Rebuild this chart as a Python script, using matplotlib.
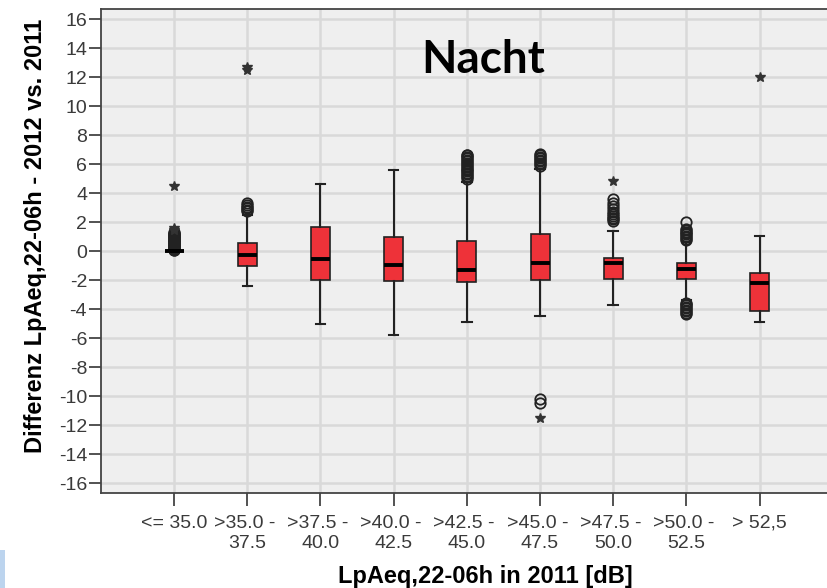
import matplotlib
matplotlib.use('Agg')
import matplotlib.pyplot as plt
from matplotlib.patches import Rectangle

plt.rcParams['axes.unicode_minus'] = False

# Kategorien (LpAeq,22-06h in 2011)
categories = ['<= 35.0', '>35.0 - \n37.5', '>37.5 - \n40.0', '>40.0 - \n42.5',
              '>42.5 - \n45.0', '>45.0 - \n47.5', '>47.5 - \n50.0',
              '>50.0 - \n52.5', '> 52,5']

# Boxplot-Kennwerte
q1 = [0.0, -1.02, -1.99, -2.06, -2.1, -2.0, -1.92, -1.92, -4.1]
med = [0.0, -0.28, -0.56, -0.95, -1.3, -0.81, -0.79, -1.21, -2.2]
q3 = [0.0, 0.55, 1.69, 0.98, 0.72, 1.17, -0.49, -0.79, -1.53]
whis_lo = [0.0, -2.4, -5.0, -5.78, -4.9, -4.47, -3.71, -3.37, -4.9]
whis_hi = [0.0, 2.5, 4.62, 5.6, 4.8, 5.7, 1.39, 0.66, 1.07]

# Ausreisser (Kreise) und Extremwerte (Sterne)
fliers = [[0.05, 0.1, 0.15, 0.2, 0.25, 0.3, 0.35, 0.4, 0.45, 0.5, 0.55, 0.6, 0.65,
           0.7, 0.75, 0.8, 0.85, 0.9, 0.95, 1.0, 1.05, 1.1, 1.15, 1.2, 1.25, 1.3],
          [2.75, 2.85, 2.95, 3.05, 3.2, 3.3],
          [],
          [],
          [5.0, 5.1, 5.2, 5.3, 5.4, 5.5, 5.6, 5.7, 5.8, 5.9, 6.0, 6.1, 6.2, 6.3,
           6.4, 6.5, 6.6, 6.65],
          [5.9, 6.0, 6.1, 6.2, 6.3, 6.4, 6.5, 6.6, 6.7, -10.2, -10.45],
          [2.1, 2.2, 2.3, 2.4, 2.55, 2.7, 2.9, 3.1, 3.3, 3.6],
          [0.75, 0.85, 0.95, 1.05, 1.15, 1.25, 1.35, 1.45, 1.55, 2.0,
           -3.55, -3.65, -3.75, -3.85, -3.95, -4.05, -4.15, -4.25, -4.35],
          []]
extremes = [[1.45, 1.6, 4.5],
            [12.5, 12.7],
            [],
            [],
            [],
            [-11.5],
            [4.87],
            [],
            [12.0]]

stats = []
for i in range(len(categories)):
    stats.append(dict(label=categories[i], q1=q1[i], med=med[i], q3=q3[i],
                      whislo=whis_lo[i], whishi=whis_hi[i], fliers=fliers[i]))

sans = ['Liberation Sans', 'DejaVu Sans']

fig = plt.figure(figsize=(8.27, 5.88), dpi=100)
fig.patches.append(Rectangle((0, 0), 0.006, 0.065, transform=fig.transFigure,
                             facecolor='#bcd4ee', edgecolor='none'))
ax = fig.add_axes([0.122, 0.162, 0.885, 0.822])
ax.set_facecolor('#efefef')

ax.bxp(stats, positions=range(1, 10), widths=0.26, patch_artist=True,
       boxprops=dict(facecolor='#ee3239', edgecolor='#222222', linewidth=1.2),
       medianprops=dict(color='black', linewidth=2.8),
       whiskerprops=dict(color='#222222', linewidth=1.5),
       capprops=dict(color='#222222', linewidth=1.5),
       flierprops=dict(marker='o', markerfacecolor='none', markeredgecolor='#222222',
                       markersize=7.5, markeredgewidth=1.3))
for i, ys in enumerate(extremes):
    ax.plot([i + 1] * len(ys), ys, linestyle='none', marker='*',
            color='#333333', markersize=7.5)

ax.set_xlim(0, 10)
ax.set_ylim(-16.67, 16.68)
ax.set_yticks(range(-16, 17, 2))
ax.grid(color='#d9d9d9', linewidth=1.8)
ax.set_axisbelow(True)
for s in ['left', 'bottom', 'top']:
    ax.spines[s].set_color('#444444')
    ax.spines[s].set_linewidth(1.3)
ax.spines['right'].set_visible(False)
ax.tick_params(axis='both', length=9, width=1.3, color='#444444', labelcolor='#3a3a3a')
ax.tick_params(axis='y', pad=1)
ax.tick_params(axis='x', pad=7)
for lab in ax.get_xticklabels() + ax.get_yticklabels():
    lab.set_family(sans)
    lab.set_fontsize(14)
for lab in ax.get_xticklabels():
    lab.set_linespacing(1.25)

ax.set_ylabel('Differenz LpAeq,22-06h - 2012 vs. 2011', fontsize=17, fontweight='bold',
              family=sans)
ax.yaxis.set_label_coords(-0.073, 0.531)
ax.set_xlabel('LpAeq,22-06h in 2011 [dB]', fontsize=17, fontweight='bold', family=sans)
ax.xaxis.set_label_coords(0.525, -0.149)
ax.text(5.22, 13.2, 'Nacht', fontsize=33, fontweight='bold',
        family=['Lato', 'DejaVu Sans'], ha='center', va='center')

plt.savefig('out.png', dpi=100)
